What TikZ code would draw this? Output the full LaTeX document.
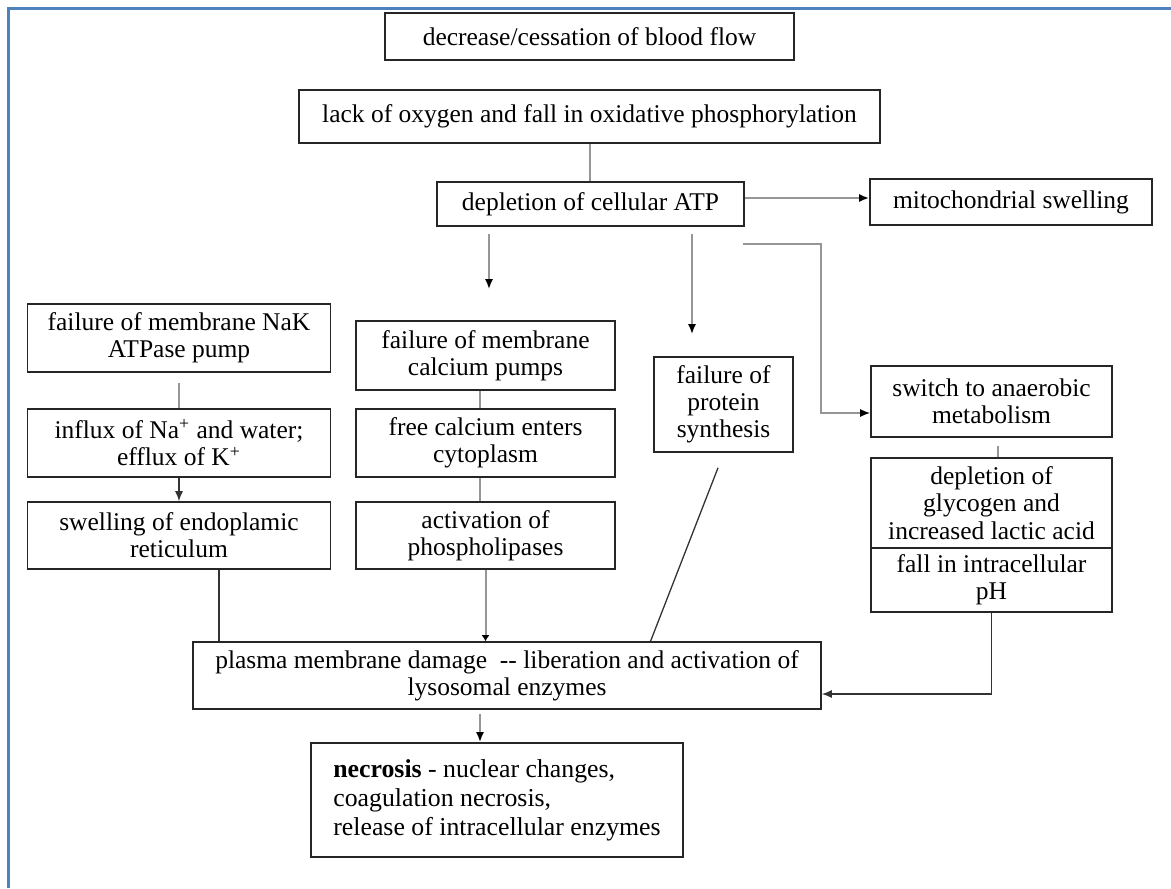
\documentclass[tikz,border=0pt]{standalone}
\usepackage{fontspec}
\setmainfont{Liberation Serif}
\usetikzlibrary{positioning}
\usetikzlibrary{arrows.meta}
\usetikzlibrary{calc}
\definecolor{framec}{RGB}{79,129,189}
\definecolor{edgegray}{RGB}{150,150,150}
\tikzset{
    cell/.style = {rectangle, draw=black!85, line width=0.8pt, align=center, inner sep=1pt, font=\fontsize{12.75}{13.6}\selectfont},
    cellnec/.style = {cell, align=left, font=\fontsize{12.9}{14.5}\selectfont},
    edgeg/.style = {-{Latex[color=black,length=5pt,width=4pt]}, draw=edgegray, line width=1pt},
    edgen/.style = {-{Latex[length=5pt,width=4pt]}, draw=black!80, line width=0.65pt},
    lineg/.style = {draw=edgegray, line width=1pt},
    linen/.style = {draw=black!80, line width=0.65pt}
}
\begin{document}
\begin{tikzpicture}[x=0.5pt, y=-0.5pt]
  \useasboundingbox (0,0) rectangle (1171,888);
  \draw[framec, line width=1.5pt] (8,888) -- (8,9) -- (1171,9);

  % top of the chain
  \node[cell, minimum width=204.5pt, minimum height=23.5pt] (flow) at (589.5,36.5) {decrease/cessation of blood flow};
  \node[cell, minimum width=290.5pt, minimum height=26.5pt] (oxy) at (589.5,116.5) {lack of oxygen and fall in oxidative phosphorylation};
  \node[cell, minimum width=153.5pt, minimum height=22pt] (atp) at (590.5,204) {depletion of cellular ATP};
  \node[cell, minimum width=141pt, minimum height=23pt] (mito) at (1011,202) {mitochondrial swelling};

  % sodium column
  \node[cell, minimum width=151.5pt, minimum height=34pt] (nak) at (179,338) {failure of membrane NaK\\ATPase pump};
  \node[cell, minimum width=151.5pt, minimum height=34pt] (influx) at (179,443) {influx of Na\textsuperscript{+} and water;\\efflux of K\textsuperscript{+}};
  \node[cell, minimum width=151.5pt, minimum height=33.5pt] (er) at (179,535.5) {swelling of endoplamic\\reticulum};

  % calcium column
  \node[cell, minimum width=129.5pt, minimum height=34.5pt] (capump) at (485.5,355.5) {failure of membrane\\calcium pumps};
  \node[cell, minimum width=129.5pt, minimum height=34pt] (cafree) at (485.5,443) {free calcium enters\\cytoplasm};
  \node[cell, minimum width=129.5pt, minimum height=33.5pt] (lipase) at (485.5,535.5) {activation of\\phospholipases};

  \node[cell, minimum width=69.5pt, minimum height=47.5pt] (protein) at (723.5,404.5) {failure of\\protein\\synthesis};

  % anaerobic column
  \node[cell, minimum width=120.5pt, minimum height=35.5pt] (anaer) at (991.5,401.5) {switch to anaerobic\\metabolism};
  \node[cell, minimum width=120.5pt, minimum height=45pt] (glyco) at (991.5,503) {depletion of\\glycogen and\\increased lactic acid};
  \node[cell, minimum width=120.5pt, minimum height=32pt] (ph) at (991.5,580) {fall in intracellular\\pH};

  % end of the chain
  \node[cell, minimum width=314pt, minimum height=33.5pt] (damage) at (507,675.5) {plasma membrane damage\ \ -{}- liberation and activation of\\lysosomal enzymes};
  \node[cellnec, minimum width=186pt, minimum height=57pt] (necro) at (497,800) {\textbf{necrosis} - nuclear changes,\\coagulation necrosis,\\release of intracellular enzymes};

  \coordinate (a1) at ($(atp.east)+(0,-6)$);
  \coordinate (e1) at ($(atp.south east)+(-2,17)$);
  \coordinate (e2) at ($(anaer.west)+(0,11.5)$);
  \coordinate (s1) at ($(er.south)+(40,0)$);
  \coordinate (p1) at ($(damage.east)+(0,18.5)$);

  \draw[lineg] (oxy.south) -- (oxy.south |- atp.north);
  \draw[edgeg] (a1) -- (a1 -| mito.west);
  \draw[edgeg] ($(atp.south -| capump.north)+(3.5,7)$) -- ($(capump.north)+(3.5,-31)$);
  \draw[edgeg] ($(atp.south -| protein.north)+(-31.5,7)$) -- ($(protein.north)+(-31.5,-22)$);
  \draw[edgeg, line width=0.8pt] (e1) -| ($(e2)+(-49,0)$) -- (e2);

  \draw[lineg] ($(nak.south)+(0,10)$) -- (influx.north);
  \draw[edgen] (influx.south) -- (er.north);
  \draw[lineg] ($(capump.south)+(-6,0)$) -- ($(cafree.north)+(-6,0)$);
  \draw[lineg] ($(cafree.south)+(-6,0)$) -- ($(lipase.north)+(-6,0)$);
  \draw[lineg] ($(anaer.south)+(6.5,8)$) -- ($(glyco.north)+(6.5,0)$);

  \draw[linen] (s1) -- (s1 |- damage.north);
  \draw[edgeg, -{Latex[color=black,length=3pt,width=4pt]}] (lipase.south) -- (lipase.south |- damage.north);
  \draw[linen] ($(protein.south)+(-5.5,15)$) -- ($(damage.north west)!0.728!(damage.north east)$);
  \draw[edgen] (ph.south) |- (p1);
  \draw[edgeg] ($(damage.south)+(-27,4)$) -- ($(necro.north)+(-17,0)$);
\end{tikzpicture}
\end{document}
